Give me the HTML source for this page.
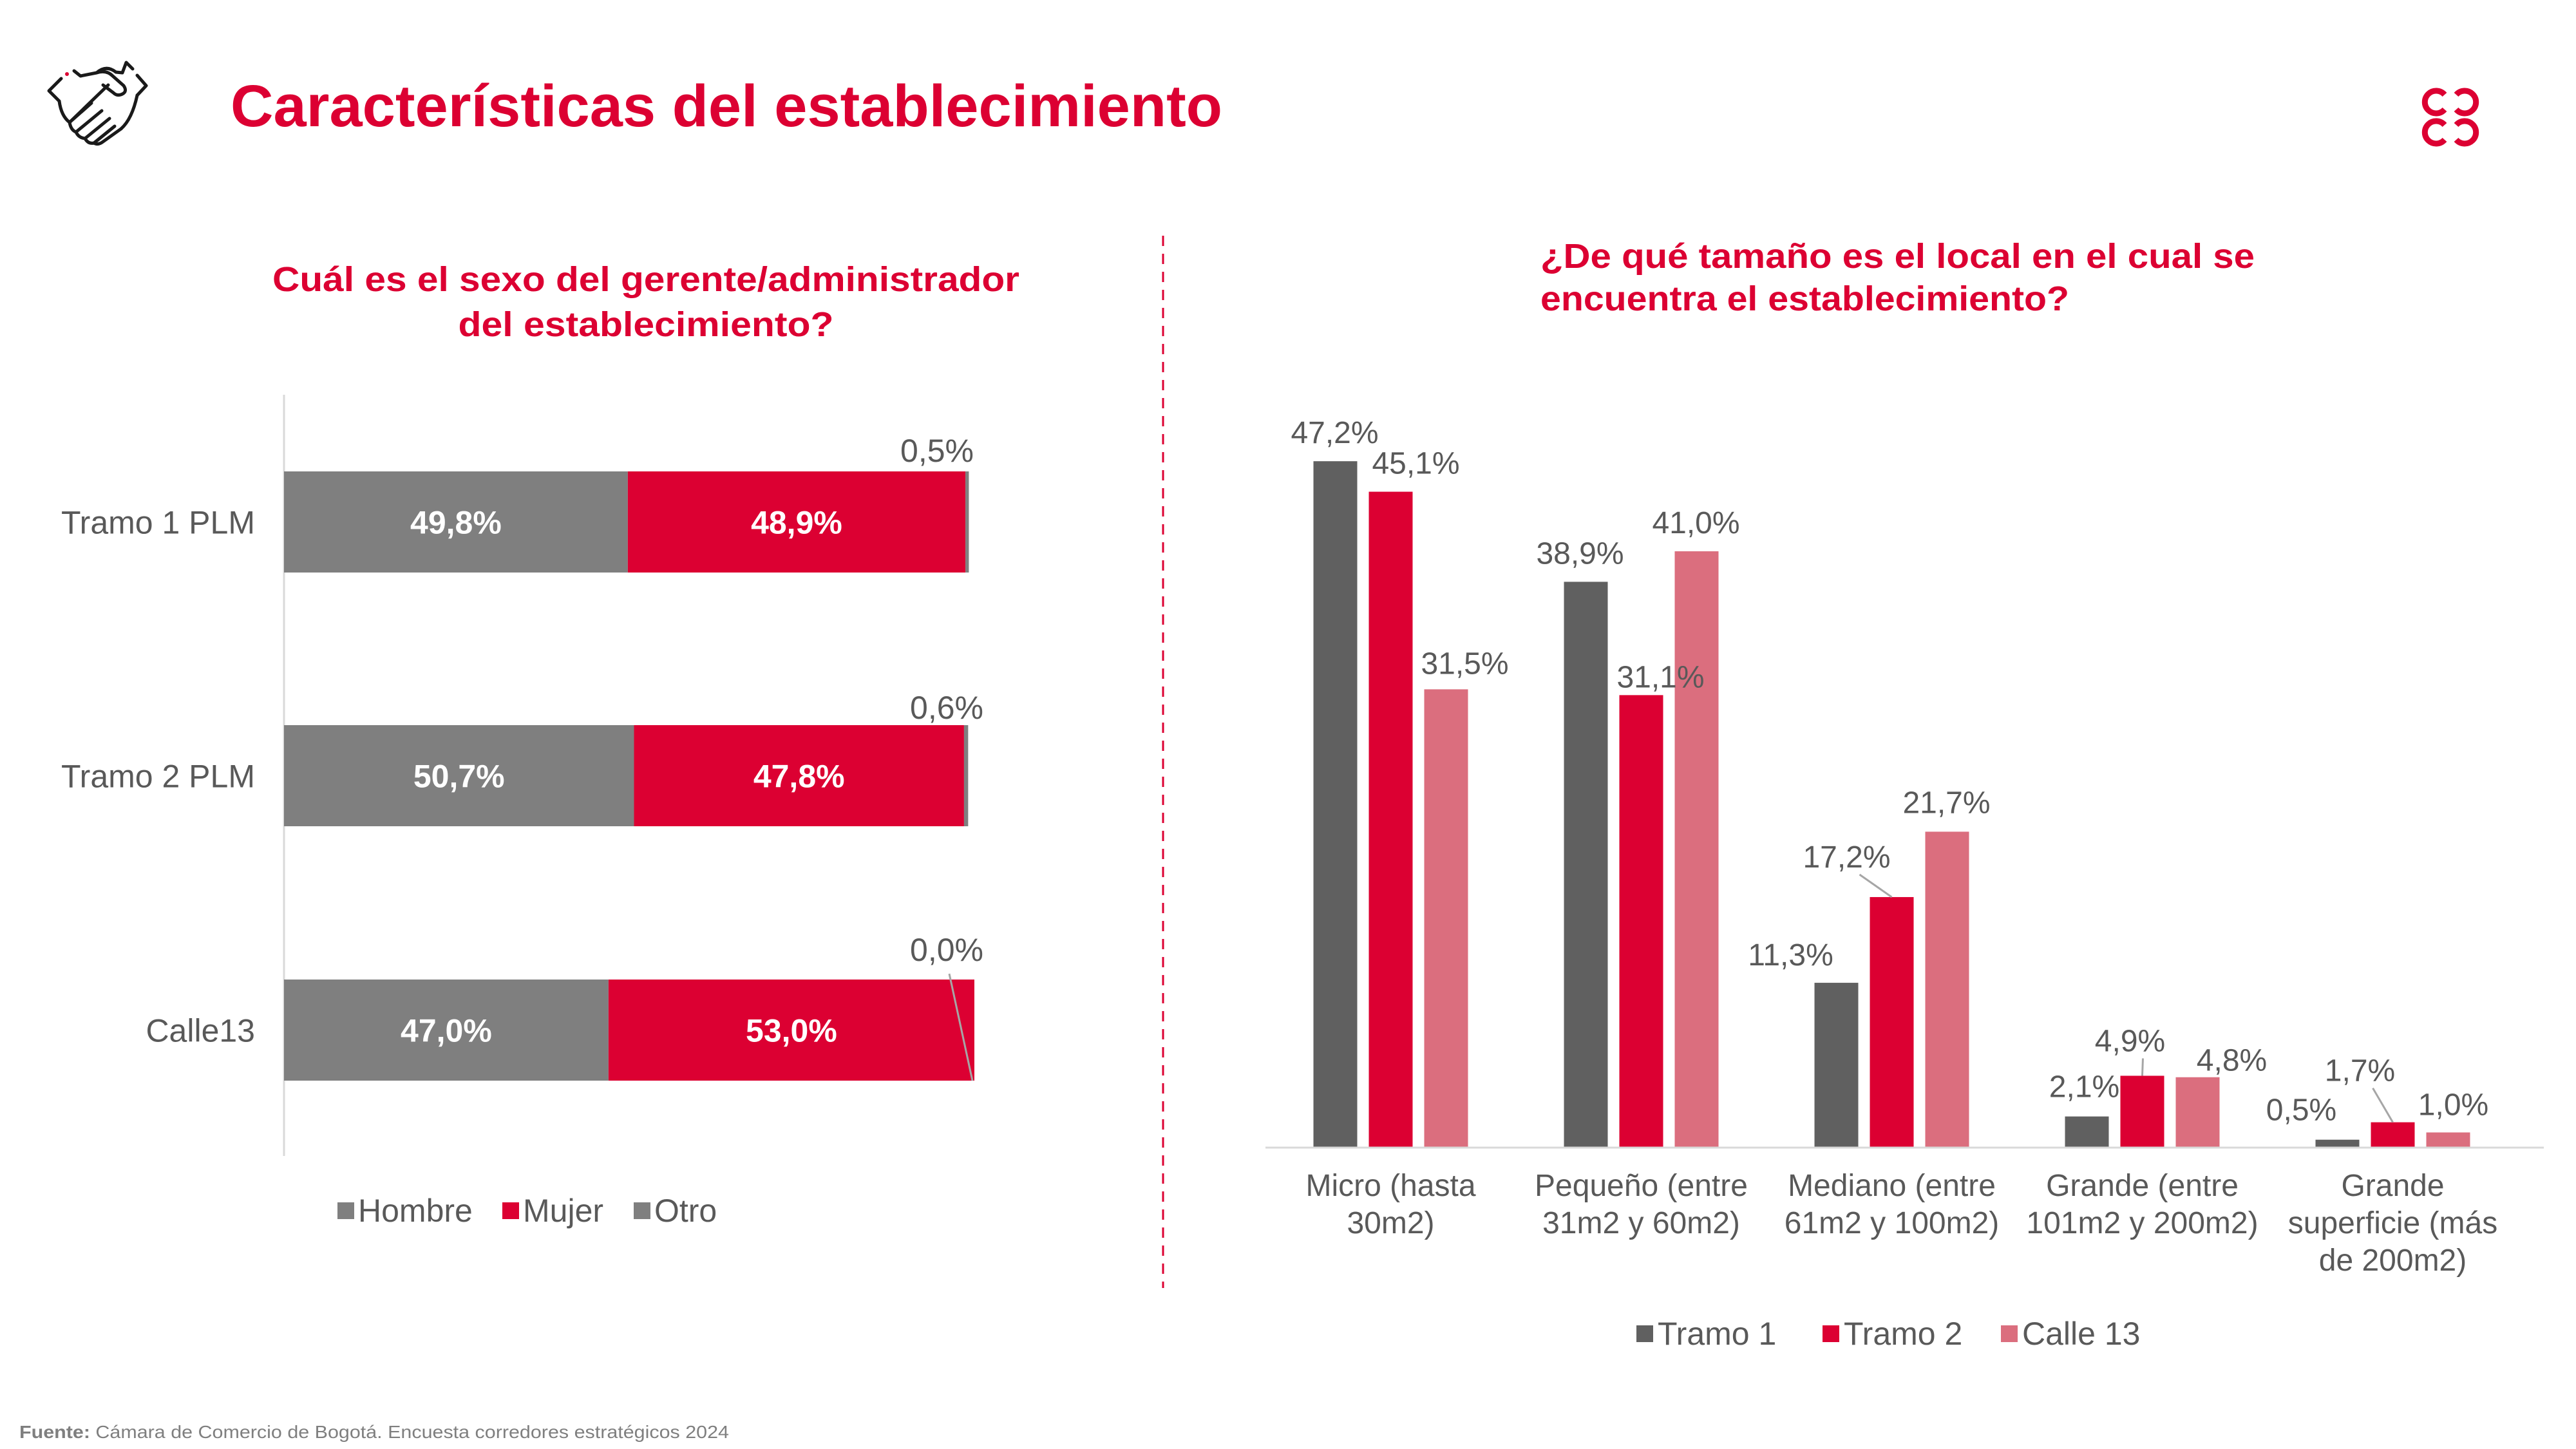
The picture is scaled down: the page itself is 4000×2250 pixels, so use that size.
<!DOCTYPE html>
<html><head><meta charset="utf-8">
<style>
html,body{margin:0;padding:0;background:#fff;}
svg{display:block;font-family:"Liberation Sans",Arial,sans-serif;}
</style></head>
<body>
<svg id="page" width="4000" height="2250" viewBox="0 0 4000 2250" xmlns="http://www.w3.org/2000/svg">
  <g fill="none" stroke="#1a1a1a" stroke-width="5" stroke-linecap="round" stroke-linejoin="round">
    <polyline points="95,122 76,141 92,157"/>
    <polyline points="213,117 227,133 213,148"/>
    <path d="M115,110 L125,118 L150,113 Q165,108 175,118 L192,133 Q198,142 190,146 Q182,150 176,144 L160,132"/>
    <path d="M150,113 Q165,100 180,112 L190,113 L196,97 L206,107"/>
    <path d="M92,157 Q95,180 108,190 L168,132"/>
    <path d="M213,148 Q205,185 188,200"/>
    <path d="M108,190 L142,160 M108,190 Q110,202 118,205 L158,172 M118,205 Q122,214 132,215 L170,184 M132,215 Q137,224 146,222 L178,196"/>
    <path d="M146,222 Q152,226 160,220 L188,200"/>
  </g>
  <circle cx="104" cy="115" r="3" fill="#dc0032"/>

  <text x="358" y="196" font-size="92" font-weight="bold" fill="#dc0032" textLength="1540" lengthAdjust="spacingAndGlyphs">Características del establecimiento</text>

  <g fill="none" stroke="#dc0032" stroke-width="9">
    <path d="M3796,147 A17.5,17.5 0 1 0 3796,170"/>
    <path d="M3814,147 A17.5,17.5 0 1 1 3814,170"/>
    <path d="M3796,194 A17.5,17.5 0 1 0 3796,217"/>
    <path d="M3814,194 A17.5,17.5 0 1 1 3814,217"/>
  </g>

  <line x1="1806" y1="366" x2="1806" y2="2000" stroke="#dc0032" stroke-width="3" stroke-dasharray="16,12"/>

  <text x="1003" y="452" font-size="54" font-weight="bold" fill="#dc0032" text-anchor="middle" textLength="1160" lengthAdjust="spacingAndGlyphs">Cuál es el sexo del gerente/administrador</text>
  <text x="1003" y="522" font-size="54" font-weight="bold" fill="#dc0032" text-anchor="middle" textLength="583" lengthAdjust="spacingAndGlyphs">del establecimiento?</text>
  <text x="2392" y="416" font-size="54" font-weight="bold" fill="#dc0032" textLength="1109" lengthAdjust="spacingAndGlyphs">¿De qué tamaño es el local en el cual se</text>
  <text x="2392" y="482" font-size="54" font-weight="bold" fill="#dc0032" textLength="821" lengthAdjust="spacingAndGlyphs">encuentra el establecimiento?</text>

  <g id="left-chart"></g>
  <g id="right-chart"></g>

  <text x="30" y="2233" font-size="28" fill="#7f7f7f" textLength="1102" lengthAdjust="spacingAndGlyphs"><tspan font-weight="bold">Fuente:</tspan> Cámara de Comercio de Bogotá. Encuesta corredores estratégicos  2024</text>
</svg>
<script>
var NS = "http://www.w3.org/2000/svg";
// ---- left chart data ----
var sexCategories = ["Tramo 1 PLM", "Tramo 2 PLM", "Calle13"];
var hombre = [49.8, 50.7, 47.0];
var mujer = [48.9, 47.8, 53.0];
var otro = [0.5, 0.6, 0.0];
var sexLabelsH = ["49,8%", "50,7%", "47,0%"];
var sexLabelsM = ["48,9%", "47,8%", "53,0%"];
var sexLabelsO = ["0,5%", "0,6%", "0,0%"];
var sexSeries = ["Hombre", "Mujer", "Otro"];

// ---- right chart data ----
var sizeCategories = [["Micro (hasta", "30m2)"], ["Pequeño (entre", "31m2 y 60m2)"], ["Mediano (entre", "61m2 y 100m2)"], ["Grande (entre", "101m2 y 200m2)"], ["Grande", "superficie (más", "de 200m2)"]];
var tramo1 = [47.2, 38.9, 11.3, 2.1, 0.5];
var tramo2 = [45.1, 31.1, 17.2, 4.9, 1.7];
var calle13 = [31.5, 41.0, 21.7, 4.8, 1.0];
var sizeSeries = ["Tramo 1", "Tramo 2", "Calle 13"];

function el(tag, attrs, parent) {
  var e = document.createElementNS(NS, tag);
  for (var k in attrs) e.setAttribute(k, attrs[k]);
  parent.appendChild(e);
  return e;
}
function fmt(v) { return v.toFixed(1).replace(".", ",") + "%"; }

// ===== left chart =====
(function () {
  var g = document.getElementById("left-chart");
  var x0 = 441, fullW = 1072;
  function xs(v) { return x0 + v / 100 * fullW; }
  var rowY = [732, 1126, 1521], barH = 157;
  var otroLabelPos = [[1455, 699], [1470, 1098], [1470, 1474]];
  var axis = el("line", {x1: x0, y1: 613, x2: x0, y2: 1795, stroke: "#d9d9d9", "stroke-width": 3}, g);
  
  
  for (var i = 0; i < sexCategories.length; i++) {
    var y = rowY[i];
    var a = xs(0), b = xs(hombre[i]), c = xs(hombre[i] + mujer[i]), d = xs(hombre[i] + mujer[i] + otro[i]);
    var r1 = el("rect", {x: a, y: y, width: b - a, height: barH, fill: "#7f7f7f"}, g);
    
    
    var r2 = el("rect", {x: b, y: y, width: c - b, height: barH, fill: "#dc0032"}, g);
    
    
    var r3 = el("rect", {x: c, y: y, width: Math.max(d - c, 0), height: barH, fill: "#7f7f7f"}, g);
    
    
    var t1 = el("text", {x: (a + b) / 2, y: y + barH / 2 + 18, "text-anchor": "middle", "font-size": 50, "font-weight": "bold", fill: "#fff"}, g);
    t1.textContent = sexLabelsH[i];
    
    
    var t2 = el("text", {x: (b + c) / 2, y: y + barH / 2 + 18, "text-anchor": "middle", "font-size": 50, "font-weight": "bold", fill: "#fff"}, g);
    t2.textContent = sexLabelsM[i];
    
    
    var t3 = el("text", {x: otroLabelPos[i][0], y: otroLabelPos[i][1] + 18, "text-anchor": "middle", "font-size": 50, fill: "#595959"}, g);
    t3.textContent = sexLabelsO[i];
    
    
    if (otro[i] === 0) {
      var ll = el("line", {x1: otroLabelPos[i][0] + 4, y1: otroLabelPos[i][1] + 38, x2: d - 3, y2: y + barH, stroke: "#a6a6a6", "stroke-width": 3}, g);
      
      
    }
    var cl = el("text", {x: 396, y: y + barH / 2 + 18, "text-anchor": "end", "font-size": 50, fill: "#595959"}, g);
    cl.textContent = sexCategories[i];
    
    
  }
  var legendX = [524, 780, 984], legendCol = ["#7f7f7f", "#dc0032", "#7f7f7f"];
  for (var j = 0; j < sexSeries.length; j++) {
    var sq = el("rect", {x: legendX[j], y: 1867, width: 26, height: 26, fill: legendCol[j]}, g);
    
    
    var lt = el("text", {x: legendX[j] + 32, y: 1897, "font-size": 50, fill: "#595959"}, g);
    lt.textContent = sexSeries[j];
    
    
  }
})();

// ===== right chart =====
(function () {
  var g = document.getElementById("right-chart");
  var barsG = el("g", {}, g);
  
  
  var labelsG = el("g", {}, g);
  
  
  var baseY = 1781, pxPer = 22.56, axL = 1965, axR = 3950, groupW = 389;
  function ys(v) { return baseY - v * pxPer; }
  var barW = 68, step = 86;
  var colors = ["#606060", "#dc0032", "#db6e7e"];
  var series = [tramo1, tramo2, calle13];
  var labelDx = [[-1, 39, 29], [-9, 30, -1], [-71, -70, -1], [-4, -19, 53], [-56, -51, 8]];
  var labelDy = [[-45, -45, -41], [-45, -29, -45], [-44, -63, -46], [-47, -55, -27], [-47, -81, -44]];
  var axis = el("line", {x1: axL, y1: baseY + 1, x2: axR, y2: baseY + 1, stroke: "#d9d9d9", "stroke-width": 3}, g);
  
  
  for (var i = 0; i < sizeCategories.length; i++) {
    var cx = axL + groupW * (i + 0.5);
    for (var s = 0; s < 3; s++) {
      var v = series[s][i];
      var bx = cx + (s - 1) * step - barW / 2;
      var r = el("rect", {x: bx, y: ys(v), width: barW, height: baseY - ys(v), fill: colors[s]}, barsG);
      
      
      var lx = bx + barW / 2 + labelDx[i][s], ly = ys(v) + labelDy[i][s];
      var t = el("text", {x: lx, y: ly + 17, "text-anchor": "middle", "font-size": 48, fill: "#595959"}, labelsG);
      t.textContent = fmt(v);
      
      
      if (labelDy[i][s] < -50 || (i === 2 && s === 1)) {
        var ln = el("line", {x1: lx + 20, y1: ly + 28, x2: bx + barW / 2, y2: ys(v), stroke: "#a6a6a6", "stroke-width": 3}, labelsG);
        
        
      }
    }
    var lines = sizeCategories[i];
    for (var k = 0; k < lines.length; k++) {
      var ct = el("text", {x: cx, y: 1857 + k * 58, "text-anchor": "middle", "font-size": 48, fill: "#595959"}, g);
      ct.textContent = lines[k];
      
      
    }
  }
  var legX = [2541, 2830, 3107];
  for (var j = 0; j < sizeSeries.length; j++) {
    var sq = el("rect", {x: legX[j], y: 2058, width: 26, height: 26, fill: colors[j]}, g);
    
    
    var lt = el("text", {x: legX[j] + 33, y: 2088, "font-size": 50, fill: "#595959"}, g);
    lt.textContent = sizeSeries[j];
    
    
  }
})();
</script>
</body></html>
